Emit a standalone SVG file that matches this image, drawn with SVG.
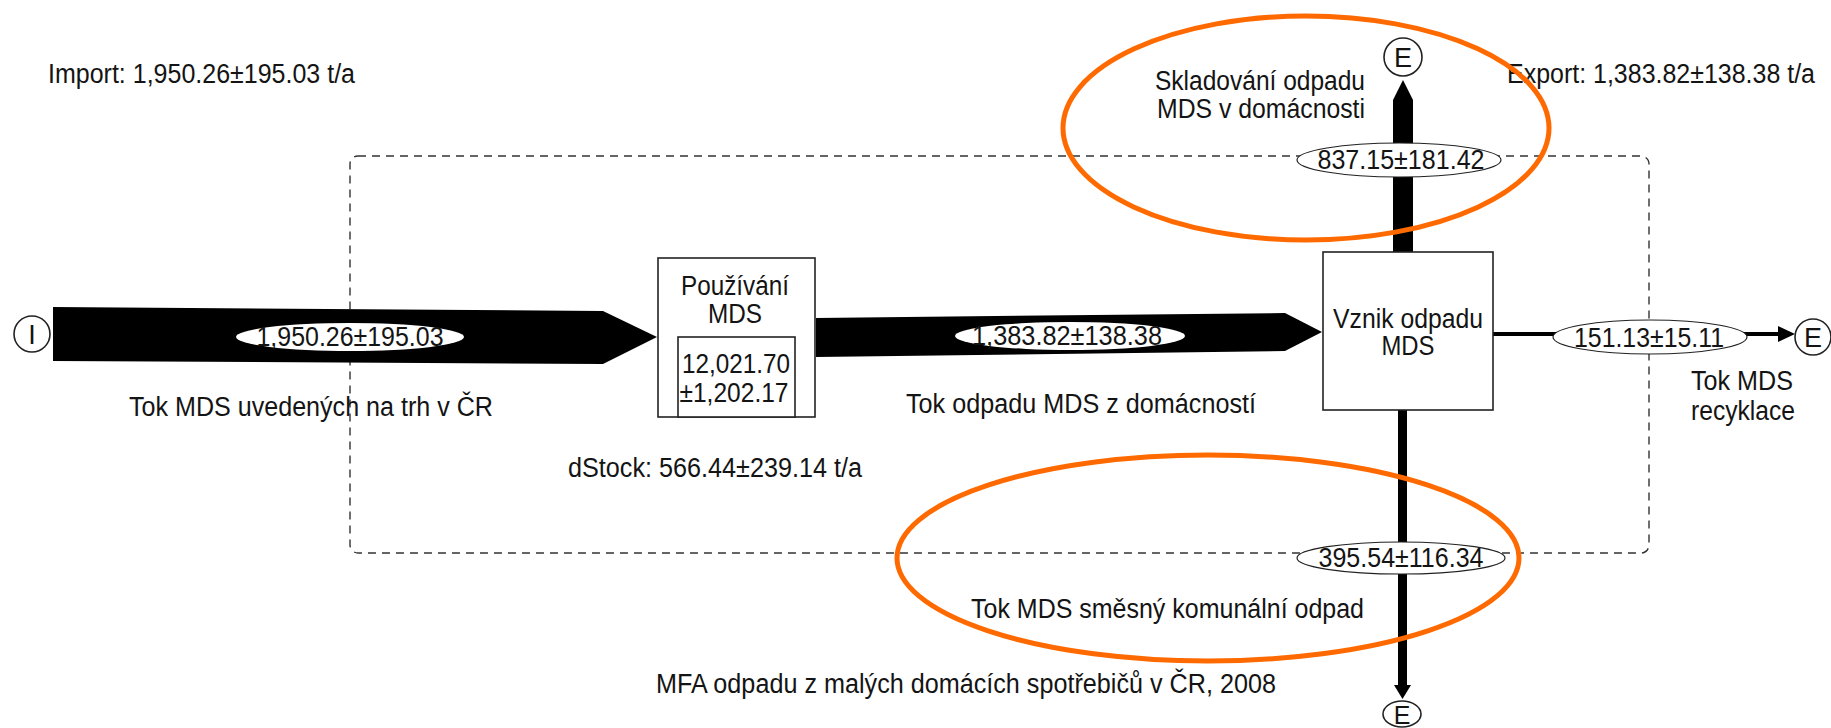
<svg xmlns="http://www.w3.org/2000/svg" width="1831" height="728" viewBox="0 0 1831 728">
<style>
text{font-family:"Liberation Sans",Arial,sans-serif;font-size:27px;fill:#141414}
.m{text-anchor:middle}
.box{fill:#fff;stroke:#222;stroke-width:1.6}
.lab{fill:#fff;stroke:#222;stroke-width:1.2}
.lab0{fill:#fff;stroke:none}
.flow{fill:#000}
.term{fill:#fff;stroke:#222;stroke-width:1.6}
.hl{fill:none;stroke:#FF6A00;stroke-width:5}
</style>
<rect width="1831" height="728" fill="#fff"/>
<g id="boundary">
<rect x="350" y="156" width="1299" height="397" rx="8" fill="none" stroke="#333" stroke-width="1.4" stroke-dasharray="8 6"/>
</g>
<g id="titles">
<text x="48" y="83" textLength="307" lengthAdjust="spacingAndGlyphs">Import: 1,950.26±195.03 t/a</text>
<text x="1507" y="83" textLength="308" lengthAdjust="spacingAndGlyphs">Export: 1,383.82±138.38 t/a</text>
<text x="568" y="477" textLength="294" lengthAdjust="spacingAndGlyphs">dStock: 566.44±239.14 t/a</text>
<text x="656" y="693" textLength="620" lengthAdjust="spacingAndGlyphs">MFA odpadu z malých domácích spotřebičů v ČR, 2008</text>
</g>
<g id="connectors">
<polygon class="flow" points="53,307 603,311 657,337 603,364 53,361"/>
<polygon class="flow" points="816,318 1285,313 1322,332 1285,351 816,357"/>
<polygon class="flow" points="1393,252 1393,100 1403,80 1413,100 1413,252"/>
<rect class="flow" x="1398" y="410" width="9" height="276"/>
<polygon class="flow" points="1394,685 1411,685 1402.5,699"/>
<line x1="1493" y1="334" x2="1780" y2="334" stroke="#000" stroke-width="4"/>
<polygon class="flow" points="1778,326 1795,334 1778,342"/>
<ellipse class="lab0" cx="350" cy="337" rx="114" ry="14"/>
<text class="m" x="350" y="346" textLength="187" lengthAdjust="spacingAndGlyphs">1,950.26±195.03</text>
<ellipse class="lab0" cx="1070" cy="336" rx="115" ry="14"/>
<text class="m" x="1067" y="345" textLength="190" lengthAdjust="spacingAndGlyphs">1,383.82±138.38</text>
<ellipse class="lab" cx="1399" cy="160" rx="102" ry="17"/>
<text class="m" x="1401" y="169" textLength="167" lengthAdjust="spacingAndGlyphs">837.15±181.42</text>
<ellipse class="lab" cx="1650" cy="337" rx="97" ry="17"/>
<text class="m" x="1649" y="347" textLength="150" lengthAdjust="spacingAndGlyphs">151.13±15.11</text>
<ellipse class="lab" cx="1401" cy="558" rx="104" ry="16"/>
<text class="m" x="1401" y="567" textLength="165" lengthAdjust="spacingAndGlyphs">395.54±116.34</text>
<text x="129" y="416" textLength="364" lengthAdjust="spacingAndGlyphs">Tok MDS uvedených na trh v ČR</text>
<text x="906" y="413" textLength="350" lengthAdjust="spacingAndGlyphs">Tok odpadu MDS z domácností</text>
<text x="1155" y="90" textLength="210" lengthAdjust="spacingAndGlyphs">Skladování odpadu</text>
<text x="1157" y="118" textLength="208" lengthAdjust="spacingAndGlyphs">MDS v domácnosti</text>
<text x="1691" y="390" textLength="102" lengthAdjust="spacingAndGlyphs">Tok MDS</text>
<text x="1691" y="420" textLength="104" lengthAdjust="spacingAndGlyphs">recyklace</text>
<text x="971" y="618" textLength="393" lengthAdjust="spacingAndGlyphs">Tok MDS směsný komunální odpad</text>
</g>
<g id="import-I">
<circle class="term" cx="32" cy="334" r="18"/>
<text class="m" x="32" y="344">I</text>
</g>
<g id="export-top">
<circle class="term" cx="1403" cy="57" r="19"/>
<text class="m" x="1403" y="67">E</text>
</g>
<g id="export-right">
<circle class="term" cx="1813" cy="337" r="18"/>
<text class="m" x="1813" y="347">E</text>
</g>
<g id="export-bottom">
<ellipse class="term" cx="1402" cy="714" rx="19" ry="13"/>
<text class="m" x="1402" y="724" style="font-size:25px">E</text>
</g>
<g id="pouzivani">
<rect class="box" x="658" y="258" width="157" height="159"/>
<text class="m" x="735" y="295" textLength="108" lengthAdjust="spacingAndGlyphs">Používání</text>
<text class="m" x="735" y="323" textLength="54" lengthAdjust="spacingAndGlyphs">MDS</text>
<rect class="box" x="678" y="337" width="117" height="80"/>
<text class="m" x="736" y="373" textLength="108" lengthAdjust="spacingAndGlyphs">12,021.70</text>
<text class="m" x="734" y="402" textLength="109" lengthAdjust="spacingAndGlyphs">±1,202.17</text>
</g>
<g id="vznik">
<rect class="box" x="1323" y="252" width="170" height="158"/>
<text class="m" x="1408" y="328" textLength="150" lengthAdjust="spacingAndGlyphs">Vznik odpadu</text>
<text class="m" x="1408" y="355" textLength="53" lengthAdjust="spacingAndGlyphs">MDS</text>
</g>
<g id="highlights">
<ellipse class="hl" cx="1306" cy="128" rx="243" ry="112"/>
<ellipse class="hl" cx="1208" cy="558" rx="311" ry="103"/>
</g>
</svg>
